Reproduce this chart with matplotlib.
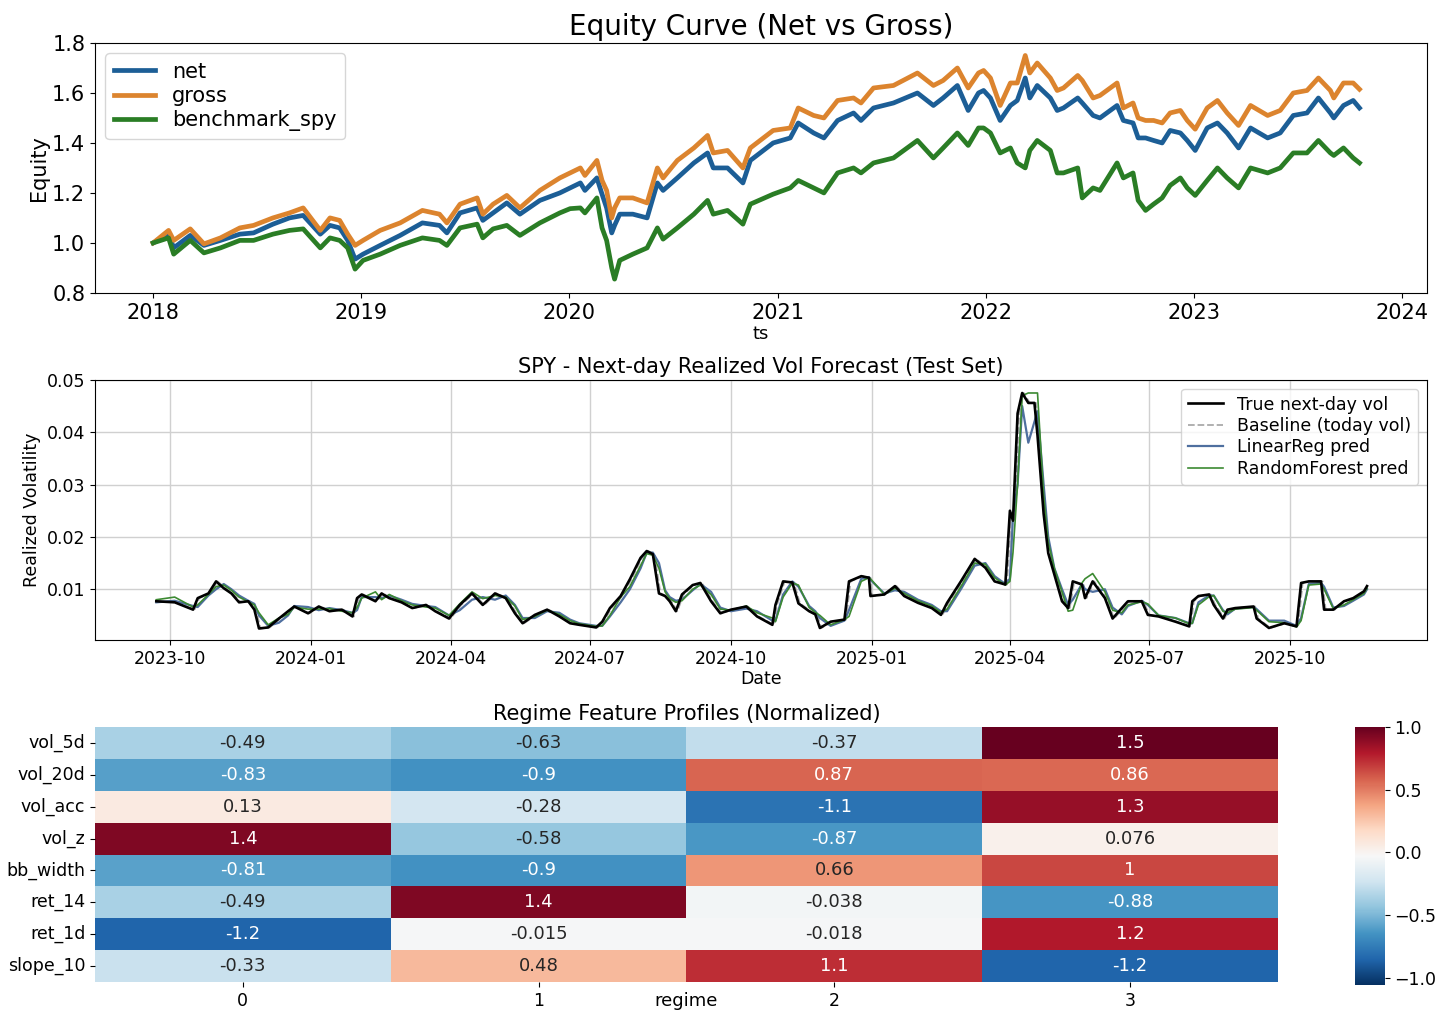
import numpy as np
import pandas as pd
import matplotlib
matplotlib.use("Agg")
import matplotlib.pyplot as plt
import matplotlib.dates as mdates
import matplotlib.colors as mcolors
import seaborn as sns

# ---- Equity curves ----
eq_dates = [
    "2018-01-02", "2018-01-29", "2018-02-07", "2018-03-08", "2018-04-01", "2018-04-30",
    "2018-06-03", "2018-06-27", "2018-07-31", "2018-08-29", "2018-09-22", "2018-10-22",
    "2018-11-08", "2018-11-25", "2018-12-09", "2018-12-22", "2019-01-05", "2019-02-04",
    "2019-03-11", "2019-04-19", "2019-05-19", "2019-06-01", "2019-06-24", "2019-07-24",
    "2019-08-03", "2019-08-21", "2019-09-14", "2019-10-07", "2019-11-11", "2019-12-16",
    "2020-01-03", "2020-01-21", "2020-01-29", "2020-02-19", "2020-02-28", "2020-03-07",
    "2020-03-16", "2020-03-21", "2020-03-30", "2020-04-22", "2020-05-17", "2020-06-04",
    "2020-06-14", "2020-07-09", "2020-08-07", "2020-08-31", "2020-09-10", "2020-10-05",
    "2020-11-01", "2020-11-14", "2020-12-24", "2021-01-23", "2021-02-06", "2021-03-05",
    "2021-03-23", "2021-04-16", "2021-05-14", "2021-05-27", "2021-06-18", "2021-07-23",
    "2021-09-03", "2021-10-01", "2021-10-18", "2021-11-12", "2021-12-01", "2021-12-19",
    "2021-12-28", "2022-01-09", "2022-01-26", "2022-02-13", "2022-02-25", "2022-03-11",
    "2022-03-19", "2022-04-01", "2022-04-24", "2022-05-06", "2022-05-17", "2022-06-11",
    "2022-06-19", "2022-07-08", "2022-07-20", "2022-08-19", "2022-08-30", "2022-09-16",
    "2022-09-25", "2022-10-08", "2022-10-22", "2022-11-06", "2022-11-20", "2022-12-08",
    "2022-12-20", "2023-01-03", "2023-01-24", "2023-02-11", "2023-02-28", "2023-03-20",
    "2023-04-10", "2023-05-10", "2023-06-01", "2023-06-24", "2023-07-18", "2023-08-07",
    "2023-08-28", "2023-09-03", "2023-09-20", "2023-10-07", "2023-10-18",
]
gross = [
    1.00, 1.05, 1.01, 1.056, 0.996, 1.02, 1.06, 1.07, 1.10, 1.12, 1.14, 1.05,
    1.10, 1.09, 1.035, 0.99, 1.01, 1.05, 1.08, 1.13, 1.115, 1.08, 1.155, 1.18,
    1.115, 1.155, 1.19, 1.14, 1.21, 1.26, 1.28, 1.30, 1.27, 1.33, 1.25, 1.21,
    1.10, 1.14, 1.18, 1.18, 1.16, 1.30, 1.26, 1.33, 1.38, 1.43, 1.36, 1.37,
    1.30, 1.38, 1.45, 1.46, 1.54, 1.51, 1.50, 1.57, 1.58, 1.56, 1.62, 1.63,
    1.68, 1.63, 1.65, 1.70, 1.62, 1.68, 1.69, 1.66, 1.55, 1.64, 1.64, 1.75,
    1.68, 1.72, 1.66, 1.61, 1.62, 1.67, 1.65, 1.58, 1.59, 1.64, 1.54, 1.56,
    1.50, 1.49, 1.49, 1.48, 1.52, 1.53, 1.49, 1.455, 1.54, 1.57, 1.52, 1.47,
    1.55, 1.51, 1.53, 1.60, 1.61, 1.66, 1.61, 1.58, 1.64, 1.64, 1.615,
]
net = [
    1.00, 1.035, 0.98, 1.03, 0.99, 1.01, 1.035, 1.04, 1.075, 1.10, 1.11, 1.035,
    1.07, 1.06, 1.01, 0.935, 0.955, 0.99, 1.03, 1.08, 1.07, 1.04, 1.12, 1.14,
    1.09, 1.12, 1.16, 1.115, 1.17, 1.20, 1.22, 1.24, 1.21, 1.26, 1.195, 1.14,
    1.04, 1.07, 1.115, 1.115, 1.10, 1.24, 1.21, 1.26, 1.32, 1.36, 1.30, 1.30,
    1.24, 1.33, 1.40, 1.42, 1.48, 1.44, 1.42, 1.49, 1.52, 1.49, 1.54, 1.56,
    1.60, 1.55, 1.58, 1.63, 1.53, 1.60, 1.61, 1.58, 1.49, 1.55, 1.57, 1.66,
    1.58, 1.63, 1.58, 1.53, 1.54, 1.58, 1.56, 1.51, 1.50, 1.55, 1.49, 1.48,
    1.42, 1.42, 1.41, 1.40, 1.45, 1.44, 1.41, 1.37, 1.46, 1.48, 1.44, 1.38,
    1.46, 1.42, 1.44, 1.51, 1.52, 1.58, 1.52, 1.50, 1.55, 1.57, 1.54,
]
benchmark_spy = [
    1.00, 1.02, 0.955, 1.01, 0.96, 0.98, 1.01, 1.01, 1.035, 1.05, 1.056, 0.98,
    1.02, 1.01, 0.98, 0.895, 0.93, 0.955, 0.99, 1.02, 1.01, 0.99, 1.06, 1.075,
    1.02, 1.056, 1.07, 1.03, 1.08, 1.12, 1.137, 1.14, 1.12, 1.18, 1.06, 1.01,
    0.90, 0.855, 0.93, 0.955, 0.98, 1.06, 1.015, 1.06, 1.115, 1.17, 1.115, 1.13,
    1.075, 1.155, 1.195, 1.22, 1.25, 1.22, 1.20, 1.28, 1.30, 1.28, 1.32, 1.34,
    1.41, 1.34, 1.38, 1.44, 1.39, 1.46, 1.46, 1.44, 1.36, 1.38, 1.32, 1.30,
    1.37, 1.41, 1.37, 1.28, 1.28, 1.30, 1.18, 1.22, 1.21, 1.32, 1.26, 1.28,
    1.17, 1.13, 1.155, 1.18, 1.23, 1.26, 1.22, 1.19, 1.25, 1.30, 1.26, 1.22,
    1.30, 1.28, 1.30, 1.36, 1.36, 1.41, 1.36, 1.35, 1.38, 1.34, 1.32,
]

# ---- Next-day realized vol (test set) ----
vol_dates = [
    "2023-09-22", "2023-10-04", "2023-10-16", "2023-10-19", "2023-10-26", "2023-10-31",
    "2023-11-05", "2023-11-10", "2023-11-15", "2023-11-21", "2023-11-25", "2023-11-28",
    "2023-12-04", "2023-12-11", "2023-12-17", "2023-12-21", "2023-12-30", "2024-01-06",
    "2024-01-13", "2024-01-21", "2024-01-28", "2024-01-31", "2024-02-03", "2024-02-12",
    "2024-02-16", "2024-02-21", "2024-02-29", "2024-03-07", "2024-03-16", "2024-03-22",
    "2024-03-31", "2024-04-07", "2024-04-15", "2024-04-22", "2024-04-30", "2024-05-07",
    "2024-05-13", "2024-05-18", "2024-05-26", "2024-06-03", "2024-06-11", "2024-06-18",
    "2024-06-24", "2024-07-05", "2024-07-09", "2024-07-14", "2024-07-21", "2024-07-27",
    "2024-08-03", "2024-08-07", "2024-08-11", "2024-08-15", "2024-08-19", "2024-08-22",
    "2024-08-26", "2024-08-30", "2024-09-06", "2024-09-11", "2024-09-18", "2024-09-24",
    "2024-10-01", "2024-10-11", "2024-10-18", "2024-10-28", "2024-10-30", "2024-11-04",
    "2024-11-10", "2024-11-14", "2024-11-21", "2024-11-25", "2024-11-28", "2024-12-05",
    "2024-12-14", "2024-12-17", "2024-12-25", "2024-12-30", "2024-12-31", "2025-01-09",
    "2025-01-16", "2025-01-22", "2025-01-31", "2025-02-09", "2025-02-15", "2025-02-19",
    "2025-02-28", "2025-03-09", "2025-03-16", "2025-03-22", "2025-03-29", "2025-04-01",
    "2025-04-03", "2025-04-06", "2025-04-09", "2025-04-13", "2025-04-17", "2025-04-19",
    "2025-04-23", "2025-04-26", "2025-04-30", "2025-05-05", "2025-05-09", "2025-05-12",
    "2025-05-18", "2025-05-20", "2025-05-25", "2025-06-02", "2025-06-07", "2025-06-13",
    "2025-06-17", "2025-06-26", "2025-06-30", "2025-07-07", "2025-07-18", "2025-07-27",
    "2025-07-29", "2025-08-02", "2025-08-09", "2025-08-12", "2025-08-18", "2025-08-21",
    "2025-08-26", "2025-09-07", "2025-09-09", "2025-09-17", "2025-09-27", "2025-10-05",
    "2025-10-08", "2025-10-13", "2025-10-21", "2025-10-23", "2025-10-29", "2025-11-05",
    "2025-11-11", "2025-11-18", "2025-11-20",
]
true_vol = [
    0.0077, 0.0075, 0.0061, 0.0083, 0.0092, 0.0115, 0.0102, 0.0092, 0.0075, 0.0077,
    0.0061, 0.0025, 0.0027, 0.0044, 0.0058, 0.0067, 0.0054, 0.0067, 0.0058, 0.0061,
    0.0048, 0.0083, 0.0090, 0.0077, 0.0092, 0.0083, 0.0075, 0.0064, 0.0070, 0.0058,
    0.0044, 0.0070, 0.0092, 0.0070, 0.0092, 0.0083, 0.0054, 0.0035, 0.0051, 0.0061,
    0.0048, 0.0035, 0.0032, 0.0027, 0.0038, 0.0064, 0.0087, 0.0119, 0.0160, 0.0173,
    0.0167, 0.0092, 0.0087, 0.0077, 0.0058, 0.0090, 0.0108, 0.0112, 0.0077, 0.0054,
    0.0061, 0.0067, 0.0048, 0.0032, 0.0070, 0.0115, 0.0113, 0.0073, 0.0058, 0.0052,
    0.0026, 0.0038, 0.0042, 0.0115, 0.0125, 0.0122, 0.0087, 0.0090, 0.0106, 0.0087,
    0.0074, 0.0064, 0.0051, 0.0074, 0.0115, 0.0158, 0.0141, 0.0115, 0.0109, 0.0250,
    0.0231, 0.0436, 0.0475, 0.0456, 0.0456, 0.0394, 0.0244, 0.0169, 0.0128, 0.0077,
    0.0064, 0.0115, 0.0109, 0.0083, 0.0115, 0.0083, 0.0044, 0.0064, 0.0077, 0.0077,
    0.0051, 0.0048, 0.0038, 0.0029, 0.0077, 0.0087, 0.0090, 0.0070, 0.0044, 0.0061,
    0.0064, 0.0067, 0.0044, 0.0026, 0.0035, 0.0029, 0.0112, 0.0115, 0.0115, 0.0061,
    0.0061, 0.0077, 0.0083, 0.0096, 0.0106,
]
lr_pred = [
    0.0075, 0.0078, 0.0068, 0.0066, 0.0088, 0.0100, 0.0110, 0.0100, 0.0088, 0.0078,
    0.0072, 0.0050, 0.0030, 0.0036, 0.0050, 0.0068, 0.0066, 0.0060, 0.0064, 0.0060,
    0.0055, 0.0060, 0.0085, 0.0085, 0.0083, 0.0088, 0.0080, 0.0072, 0.0068, 0.0066,
    0.0050, 0.0060, 0.0080, 0.0085, 0.0080, 0.0088, 0.0070, 0.0045, 0.0045, 0.0058,
    0.0055, 0.0042, 0.0035, 0.0030, 0.0030, 0.0048, 0.0075, 0.0100, 0.0140, 0.0170,
    0.0170, 0.0150, 0.0098, 0.0085, 0.0078, 0.0080, 0.0098, 0.0110, 0.0095, 0.0065,
    0.0058, 0.0063, 0.0058, 0.0040, 0.0040, 0.0090, 0.0115, 0.0105, 0.0068, 0.0058,
    0.0045, 0.0030, 0.0040, 0.0060, 0.0120, 0.0123, 0.0118, 0.0092, 0.0098, 0.0095,
    0.0080, 0.0070, 0.0058, 0.0058, 0.0100, 0.0145, 0.0150, 0.0125, 0.0110, 0.0120,
    0.0240, 0.0300, 0.0450, 0.0380, 0.0420, 0.0440, 0.0300, 0.0200, 0.0140, 0.0100,
    0.0070, 0.0080, 0.0110, 0.0100, 0.0095, 0.0100, 0.0065, 0.0052, 0.0068, 0.0078,
    0.0070, 0.0050, 0.0045, 0.0035, 0.0035, 0.0075, 0.0088, 0.0088, 0.0060, 0.0052,
    0.0063, 0.0066, 0.0062, 0.0040, 0.0040, 0.0030, 0.0045, 0.0110, 0.0112, 0.0105,
    0.0065, 0.0068, 0.0078, 0.0090, 0.0100,
]
rf_pred = [
    0.0080, 0.0085, 0.0066, 0.0070, 0.0090, 0.0105, 0.0108, 0.0098, 0.0085, 0.0076,
    0.0070, 0.0055, 0.0032, 0.0045, 0.0052, 0.0066, 0.0062, 0.0062, 0.0063, 0.0058,
    0.0055, 0.0065, 0.0083, 0.0095, 0.0080, 0.0090, 0.0078, 0.0070, 0.0066, 0.0064,
    0.0050, 0.0072, 0.0095, 0.0082, 0.0088, 0.0085, 0.0068, 0.0042, 0.0048, 0.0060,
    0.0052, 0.0040, 0.0034, 0.0029, 0.0030, 0.0050, 0.0085, 0.0105, 0.0145, 0.0168,
    0.0165, 0.0140, 0.0095, 0.0082, 0.0075, 0.0078, 0.0100, 0.0108, 0.0090, 0.0062,
    0.0060, 0.0068, 0.0055, 0.0045, 0.0038, 0.0085, 0.0112, 0.0108, 0.0065, 0.0056,
    0.0050, 0.0032, 0.0042, 0.0048, 0.0115, 0.0122, 0.0120, 0.0090, 0.0102, 0.0092,
    0.0078, 0.0068, 0.0056, 0.0062, 0.0105, 0.0150, 0.0148, 0.0122, 0.0108, 0.0115,
    0.0170, 0.0300, 0.0470, 0.0475, 0.0475, 0.0475, 0.0280, 0.0190, 0.0140, 0.0095,
    0.0058, 0.0060, 0.0112, 0.0120, 0.0130, 0.0095, 0.0060, 0.0055, 0.0070, 0.0076,
    0.0072, 0.0050, 0.0045, 0.0034, 0.0035, 0.0070, 0.0086, 0.0088, 0.0058, 0.0055,
    0.0062, 0.0065, 0.0060, 0.0038, 0.0036, 0.0028, 0.0040, 0.0108, 0.0110, 0.0100,
    0.0063, 0.0070, 0.0080, 0.0092, 0.0102,
]

# ---- Regime feature profiles ----
features = ["vol_5d", "vol_20d", "vol_acc", "vol_z", "bb_width", "ret_14", "ret_1d", "slope_10"]
regimes = [0, 1, 2, 3]
profiles = [
    [-0.49, -0.63, -0.37, 1.5],
    [-0.83, -0.9, 0.87, 0.86],
    [0.13, -0.28, -1.1, 1.3],
    [1.4, -0.58, -0.87, 0.076],
    [-0.81, -0.9, 0.66, 1],
    [-0.49, 1.4, -0.038, -0.88],
    [-1.2, -0.015, -0.018, 1.2],
    [-0.33, 0.48, 1.1, -1.2],
]

fig = plt.figure(figsize=(14.46, 10.24), dpi=100)

# Equity curve
ax1 = fig.add_axes([0.0657, 0.714, 0.921, 0.244])
ed = pd.to_datetime(eq_dates)
ax1.plot(ed, net, color="#1c5e96", lw=3.4, label="net")
ax1.plot(ed, gross, color="#dc842e", lw=3.4, label="gross")
ax1.plot(ed, benchmark_spy, color="#2a7d25", lw=3.4, label="benchmark_spy")
ax1.set_xlim(pd.Timestamp("2017-09-22"), pd.Timestamp("2024-02-13"))
ax1.set_ylim(0.8, 1.8)
ax1.xaxis.set_major_locator(mdates.YearLocator())
ax1.xaxis.set_major_formatter(mdates.DateFormatter("%Y"))
ax1.set_title("Equity Curve (Net vs Gross)", fontsize=20, pad=6)
ax1.set_ylabel("Equity", fontsize=15, labelpad=2)
ax1.set_xlabel("ts", fontsize=13, labelpad=2)
ax1.tick_params(labelsize=15)
ax1.legend(loc="upper left", fontsize=15, handlelength=2.0, borderpad=0.4,
           labelspacing=0.2, borderaxespad=0.5)

# Volatility forecast
ax2 = fig.add_axes([0.0657, 0.375, 0.921, 0.254])
vd = pd.to_datetime(vol_dates)
ax2.plot(vd, true_vol, color="black", lw=1.9, label="True next-day vol", zorder=3)
# baseline = today's vol, i.e. the true series one day earlier
ax2.plot(vd + pd.Timedelta(days=1), true_vol, color="#aaaaaa", lw=1.3, ls="--",
         label="Baseline (today vol)", zorder=2)
ax2.plot(vd, lr_pred, color="#4f6f9f", lw=1.6, label="LinearReg pred", zorder=2.5)
ax2.plot(vd, rf_pred, color="#3c8a32", lw=1.2, label="RandomForest pred", zorder=2.6)
ax2.set_xlim(pd.Timestamp("2023-08-13"), pd.Timestamp("2025-12-29"))
ax2.set_ylim(0.0003, 0.0499)
ax2.set_yticks([0.01, 0.02, 0.03, 0.04, 0.05])
ax2.xaxis.set_major_locator(mdates.MonthLocator(bymonth=[1, 4, 7, 10]))
ax2.xaxis.set_major_formatter(mdates.DateFormatter("%Y-%m"))
ax2.grid(True, color="#d0d0d0", lw=1.0)
ax2.set_title("SPY - Next-day Realized Vol Forecast (Test Set)", fontsize=15, pad=5)
ax2.set_xlabel("Date", fontsize=12.5, labelpad=2)
ax2.set_ylabel("Realized Volatility", fontsize=12.5)
ax2.tick_params(labelsize=12.5)
ax2.legend(loc="upper right", fontsize=12.5, handlelength=2.0, borderpad=0.4,
           labelspacing=0.2)

# Regime heatmap (cells centred on 0 over the data range)
ax3 = fig.add_axes([0.0657, 0.041, 0.818, 0.249])
cax = fig.add_axes([0.937, 0.038, 0.0207, 0.252])
prof_df = pd.DataFrame(profiles, index=features, columns=regimes)
sns.heatmap(prof_df, ax=ax3, cbar=False, cmap="RdBu_r", center=0,
            annot=True, fmt=".2g", annot_kws={"size": 13})
ax3.set_title("Regime Feature Profiles (Normalized)", fontsize=15, pad=5)
ax3.set_xlabel("regime", fontsize=13)
ax3.xaxis.set_label_coords(0.5, -0.04)
ax3.set_ylabel("")
ax3.tick_params(labelsize=12.5)
plt.setp(ax3.get_yticklabels(), rotation=0)

sm = plt.cm.ScalarMappable(cmap="RdBu_r", norm=mcolors.Normalize(-1.06, 1.0))
cb = fig.colorbar(sm, cax=cax)
cb.outline.set_visible(False)
cb.set_ticks([-1.0, -0.5, 0.0, 0.5, 1.0])
cax.tick_params(labelsize=12.5)

fig.savefig("out.png", dpi=100)
